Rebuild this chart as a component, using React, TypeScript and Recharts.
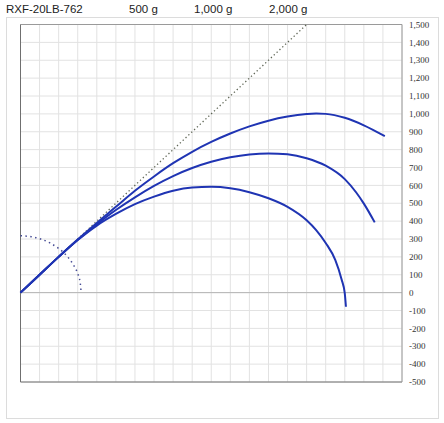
import React from "react";
import { LineChart, Line, XAxis, YAxis, CartesianGrid, ReferenceLine } from "recharts";

// header labels
const modelName = "RXF-20LB-762";
const loadLabels = ["500 g", "1,000 g", "2,000 g"];

// rod shapes under load (mm)
const load500X = [0, 100, 200, 300, 400, 500, 600, 700, 800, 900, 1000, 1100, 1200, 1300, 1400, 1500, 1550, 1600, 1700, 1800, 1910];
const load500Y = [0, 100, 200, 297, 390, 480, 570, 650, 724, 788, 843, 890, 930, 962, 985, 999, 1002, 1000, 978, 936, 875];

const load1000X = [0, 100, 200, 300, 400, 500, 600, 700, 800, 900, 1000, 1100, 1200, 1300, 1400, 1500, 1600, 1700, 1760, 1800, 1857];
const load1000Y = [0, 100, 200, 296, 382, 462, 533, 597, 652, 697, 732, 757, 773, 779, 774, 752, 710, 635, 560, 498, 393];

const load2000X = [0, 100, 200, 300, 400, 500, 600, 700, 800, 900, 1000, 1100, 1200, 1300, 1400, 1500, 1550, 1600, 1650, 1683, 1700, 1706];
const load2000Y = [0, 100, 200, 294, 375, 440, 495, 537, 570, 588, 592, 584, 562, 528, 480, 405, 350, 278, 183, 75, -4, -79];

// unloaded rod and grip arc
const straightX = [0, 1500];
const straightY = [0, 1500];
const gripX = [0, 55, 109, 159, 204, 244, 275, 299, 313, 318];
const gripY = [318, 313, 299, 275, 244, 204, 159, 109, 55, 0];

const xTicks = [0, 100, 200, 300, 400, 500, 600, 700, 800, 900, 1000, 1100, 1200, 1300, 1400, 1500, 1600, 1700, 1800, 1900, 2000];
const yTicks = [-500, -400, -300, -200, -100, 0, 100, 200, 300, 400, 500, 600, 700, 800, 900, 1000, 1100, 1200, 1300, 1400, 1500];

const zip = (xs: number[], ys: number[]) => xs.map((x, i) => ({ x, y: ys[i] }));

const blue = "#1f34b3";
const labelLeft = [129, 194, 269];

export default function App() {
  return (
    <div style={{ position: "absolute", left: 0, top: 0, width: 444, height: 423, background: "#fff" }}>
      <div
        style={{
          position: "absolute",
          left: 6,
          top: 17,
          width: 431,
          height: 400,
          border: "1px solid #dcdcdc",
        }}
      />
      <div style={{ position: "absolute", left: 6, top: 2, fontFamily: "Liberation Sans", fontSize: 11.5, lineHeight: "14px", color: "#222" }}>
        {modelName}
      </div>
      {loadLabels.map((t, i) => (
        <div
          key={t}
          style={{ position: "absolute", left: labelLeft[i], top: 2, fontFamily: "Liberation Sans", fontSize: 11.5, lineHeight: "14px", color: "#222", whiteSpace: "nowrap" }}
        >
          {t}
        </div>
      ))}
      <div style={{ position: "absolute", left: 0, top: 0 }}>
        <LineChart width={444} height={423} margin={{ top: 24.5, right: 12, left: 20.5, bottom: 41 }}>
          <CartesianGrid stroke="#e2e2e2" />
          <XAxis type="number" dataKey="x" domain={[0, 2000]} ticks={xTicks} interval={0} hide />
          <YAxis
            orientation="right"
            type="number"
            domain={[-500, 1500]}
            ticks={yTicks}
            interval={0}
            width={30}
            tickSize={5}
            tickMargin={2}
            tickLine={false}
            axisLine={{ stroke: "#9a9a9a" }}
            tick={{ fontSize: 9, fill: "#333", fontFamily: "Liberation Serif" }}
            tickFormatter={(v: number) => v.toLocaleString("en-US")}
          />
          <ReferenceLine y={1500} stroke="#9a9a9a" />
          <ReferenceLine y={0} stroke="#b5b5b5" />
          <ReferenceLine y={-500} stroke="#6f6f6f" />
          <ReferenceLine x={0} stroke="#6f6f6f" />
          <Line
            data={zip(straightX, straightY)}
            dataKey="y"
            type="linear"
            stroke="#5f6656"
            strokeWidth={1.3}
            strokeDasharray="1.3 2.6"
            dot={false}
            isAnimationActive={false}
          />
          <Line
            data={zip(gripX, gripY)}
            dataKey="y"
            type="monotone"
            stroke="#464c95"
            strokeWidth={1.5}
            strokeDasharray="1.5 3.4"
            dot={false}
            isAnimationActive={false}
          />
          <Line data={zip(load2000X, load2000Y)} dataKey="y" type="monotone" stroke={blue} strokeWidth={2} dot={false} isAnimationActive={false} />
          <Line data={zip(load1000X, load1000Y)} dataKey="y" type="monotone" stroke={blue} strokeWidth={2} dot={false} isAnimationActive={false} />
          <Line data={zip(load500X, load500Y)} dataKey="y" type="monotone" stroke={blue} strokeWidth={2} dot={false} isAnimationActive={false} />
        </LineChart>
      </div>
    </div>
  );
}
